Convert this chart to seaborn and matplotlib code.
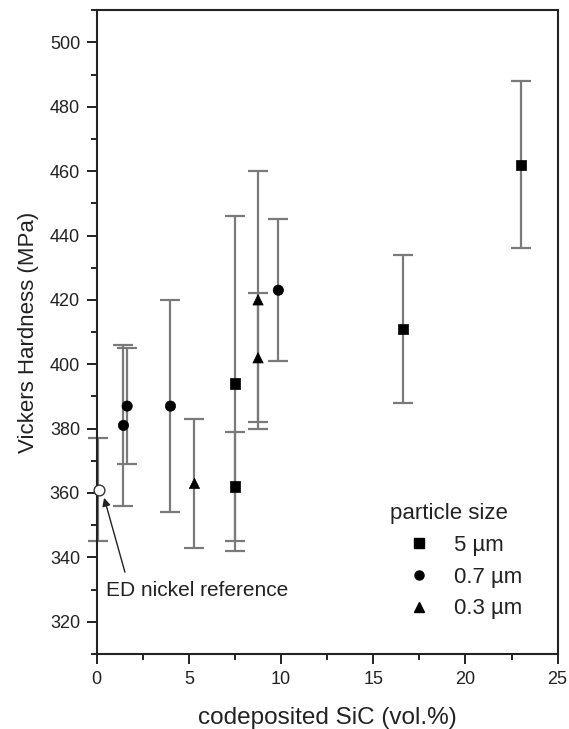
import matplotlib
matplotlib.use("Agg")
import matplotlib.pyplot as plt
import seaborn as sns
import pandas as pd
from matplotlib.ticker import MultipleLocator
from matplotlib.lines import Line2D

# ---- data ----
sq_x = [7.5, 7.5, 16.6, 23.0]
sq_y = [394, 362, 411, 462]
sq_lo = [342, 345, 388, 436]
sq_hi = [446, 379, 434, 488]

ci_x = [1.45, 1.65, 4.0, 9.85]
ci_y = [381, 387, 387, 423]
ci_lo = [356, 369, 354, 401]
ci_hi = [406, 405, 420, 445]

tr_x = [5.3, 8.75, 8.75]
tr_y = [363, 420, 402]
tr_lo = [343, 380, 382]
tr_hi = [383, 460, 422]

ref_x = [0.15]
ref_y = [361]
ref_lo = [345]
ref_hi = [377]

labels = ["5 µm", "0.7 µm", "0.3 µm"]

df = pd.DataFrame({
    "x": sq_x + ci_x + tr_x,
    "y": sq_y + ci_y + tr_y,
    "lo": sq_lo + ci_lo + tr_lo,
    "hi": sq_hi + ci_hi + tr_hi,
    "size": [labels[0]] * len(sq_x) + [labels[1]] * len(ci_x) + [labels[2]] * len(tr_x),
})

sns.set_theme(style="ticks")
plt.rcParams["font.family"] = ["Liberation Sans", "DejaVu Sans"]

fig = plt.figure(figsize=(5.69, 7.29), dpi=100)
ax = fig.add_axes([0.170, 0.103, 0.810, 0.883])

# error bars
ax.errorbar(df["x"], df["y"],
            yerr=[df["y"] - df["lo"], df["hi"] - df["y"]],
            fmt="none", ecolor="#7a7a7a", elinewidth=1.6, capsize=7, capthick=1.6, zorder=1)
ax.errorbar(ref_x[0] - 0.1, ref_y[0], yerr=[[ref_y[0] - ref_lo[0]], [ref_hi[0] - ref_y[0]]],
            fmt="none", ecolor="#7a7a7a", elinewidth=1.6, capsize=7, capthick=1.6, zorder=1, clip_on=False)

sns.scatterplot(data=df, x="x", y="y", style="size", style_order=labels,
                markers={labels[0]: "s", labels[1]: "o", labels[2]: "^"},
                color="black", s=55, edgecolor="black", linewidth=0.5, ax=ax, zorder=3, legend=False)

ax.scatter(ref_x, ref_y, s=60, facecolor="white", edgecolor="#333333", linewidth=1.0, zorder=4, clip_on=False)

# legend
handles = [Line2D([], [], ls="none", marker=m, color="black", markersize=6.5)
           for m in ["s", "o", "^"]]
leg = ax.legend(handles, labels, title="particle size", frameon=False,
                loc="upper left", bbox_to_anchor=(0.636, 0.234),
                borderpad=0, borderaxespad=0,
                fontsize=16, title_fontsize=16, handletextpad=0.3,
                labelspacing=0.48, handlelength=2.6)
leg._legend_box.align = "left"
for t in leg.get_texts():
    t.set_color("#222222")
leg.get_title().set_color("#222222")

# annotation
ax.annotate("", xy=(0.4, 358.5), xytext=(1.53, 335.4),
            arrowprops=dict(arrowstyle="-|>", color="#222222", lw=1.0,
                            shrinkA=0, shrinkB=0, mutation_scale=12))
ax.text(0.5, 329.8, "ED nickel reference", fontsize=15, color="#222222",
        ha="left", va="center")

ax.set_xlim(0, 25)
ax.set_ylim(310, 510)
ax.xaxis.set_major_locator(MultipleLocator(5))
ax.xaxis.set_minor_locator(MultipleLocator(2.5))
ax.yaxis.set_major_locator(MultipleLocator(20))
ax.yaxis.set_minor_locator(MultipleLocator(10))
ax.set_yticks([320, 340, 360, 380, 400, 420, 440, 460, 480, 500])

ax.tick_params(which="major", length=7, width=1.4, labelsize=13, colors="#222222", direction="out", pad=5)
ax.tick_params(which="minor", length=4.5, width=1.4, direction="out", colors="#222222")
for sp in ax.spines.values():
    sp.set_linewidth(1.5)
    sp.set_color("#222222")

ax.set_xlabel("codeposited SiC (vol.%)", fontsize=17.5, color="#222222", labelpad=14)
ax.set_ylabel("Vickers Hardness (MPa)", fontsize=16, color="#222222", labelpad=8)

fig.savefig("out.png", dpi=100)
